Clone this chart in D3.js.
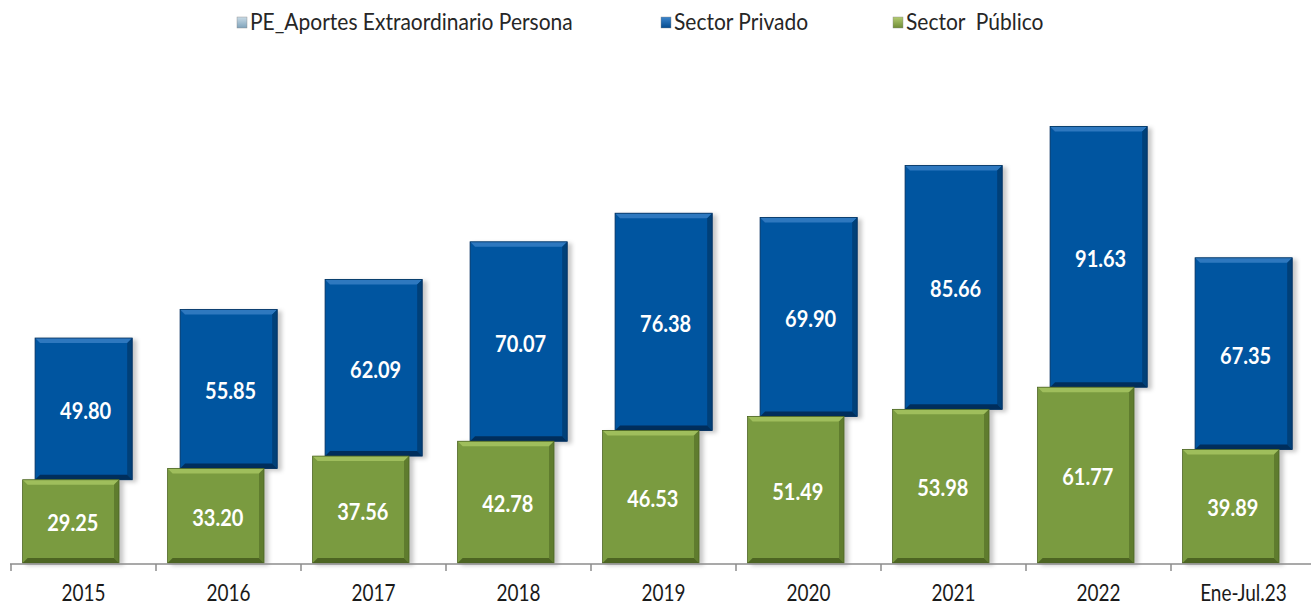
<!DOCTYPE html>
<html>
<head>
<meta charset="utf-8">
<script src="https://cdn.jsdelivr.net/npm/d3@7"></script>
<style>
  body { margin: 0; background: #fff; }
  svg text { font-family: Lato, "Open Sans", sans-serif; }
</style>
</head>
<body>
<div id="chart"></div>
<script>
// chart data
var categories = ["2015", "2016", "2017", "2018", "2019", "2020", "2021", "2022", "Ene-Jul.23"];
var sectorPublico = [29.25, 33.20, 37.56, 42.78, 46.53, 51.49, 53.98, 61.77, 39.89];
var sectorPrivado = [49.80, 55.85, 62.09, 70.07, 76.38, 69.90, 85.66, 91.63, 67.35];
var seriesNames = ["PE_Aportes Extraordinario Persona", "Sector Privado", "Sector  Público"];

var svgWidth = 1311;
var svgHeight = 605;
var baseY = 563;

var svg = d3.select("#chart").append("svg")
  .attr("width", svgWidth)
  .attr("height", svgHeight);

var x = d3.scaleBand().domain(categories).range([11, 1316]).padding(0);
var y = d3.scaleLinear().domain([0, 160]).range([baseY, baseY - 160 * 2.846]);

var defs = svg.append("defs");
var shadow = defs.append("filter").attr("id", "shadow")
  .attr("x", "-10%").attr("y", "-10%").attr("width", "130%").attr("height", "130%");
shadow.append("feDropShadow")
  .attr("dx", 4).attr("dy", 2).attr("stdDeviation", 2)
  .attr("flood-color", "#000").attr("flood-opacity", 0.22);

// legend marker gradients
function addGrad(id, c1, c2) {
  var g = defs.append("linearGradient").attr("id", id)
    .attr("x1", 0).attr("y1", 0).attr("x2", 0).attr("y2", 1);
  g.append("stop").attr("offset", "0%").attr("stop-color", c1);
  g.append("stop").attr("offset", "100%").attr("stop-color", c2);
}
addGrad("lg0", "#c9dbe6", "#7fa3bb");
addGrad("lg1", "#3d86cc", "#034a8e");
addGrad("lg2", "#b4cc72", "#6f8c35");

// stretched text helper (reference text is tall and narrow)
function tallText(g, tx, ty, str, sy) {
  return g.append("text")
    .attr("transform", "translate(" + tx + "," + ty + ") scale(1," + sy + ")")
    .text(str);
}

// bevelled bar: base rect + edge polygons
function bevelBar(g, bx, by, bw, bh, fill, light, dark, darker) {
  var b = Math.min(5, bh / 2);
  var grp = g.append("g").attr("filter", "url(#shadow)");
  grp.append("rect").attr("x", bx).attr("y", by).attr("width", bw).attr("height", bh).attr("fill", fill);
  grp.append("polygon")
    .attr("points", [[bx, by], [bx + bw, by], [bx + bw - b, by + b], [bx + b, by + b]].join(" "))
    .attr("fill", light);
  grp.append("polygon")
    .attr("points", [[bx + bw, by], [bx + bw, by + bh], [bx + bw - b, by + bh - b], [bx + bw - b, by + b]].join(" "))
    .attr("fill", dark);
  grp.append("polygon")
    .attr("points", [[bx, by + bh], [bx + bw, by + bh], [bx + bw - b, by + bh - b], [bx + b, by + bh - b]].join(" "))
    .attr("fill", darker);
  grp.append("rect").attr("x", bx).attr("y", by).attr("width", bw).attr("height", bh)
    .attr("fill", "none").attr("stroke", darker).attr("stroke-width", 0.8);
}

var bw = x.bandwidth();
var bars = svg.append("g");

// sector privado, stacked above publico and shifted right
categories.forEach(function(c, i) {
  var top = y(sectorPublico[i] + sectorPrivado[i]);
  var bottom = y(sectorPublico[i]);
  bevelBar(bars, x(c) + bw * 0.166, top, bw * 0.67, bottom - top,
    "#0455a0", "#2f78bf", "#033f78", "#022f5c");
});

// sector publico in front
categories.forEach(function(c, i) {
  var top = y(sectorPublico[i]);
  bevelBar(bars, x(c) + bw * 0.08, top, bw * 0.665, baseY - top,
    "#7a9b3f", "#9fbe5c", "#5f7b2e", "#4d6524");
});

// value labels
var labels = svg.append("g")
  .attr("fill", "#fff")
  .attr("font-size", 20)
  .attr("font-weight", "bold")
  .attr("text-anchor", "middle");

categories.forEach(function(c, i) {
  var top = y(sectorPublico[i] + sectorPrivado[i]);
  var bottom = y(sectorPublico[i]);
  tallText(labels, x(c) + bw * 0.166 + bw * 0.335 + 2, (top + bottom) / 2 + 10,
    d3.format(".2f")(sectorPrivado[i]), 1.13);
  tallText(labels, x(c) + bw * 0.08 + bw * 0.3325 + 2, (bottom + baseY) / 2 + 10,
    d3.format(".2f")(sectorPublico[i]), 1.13);
});

// x axis
var axis = svg.append("g").attr("transform", "translate(0," + (baseY + 1) + ")");
axis.append("line")
  .attr("x1", 10).attr("x2", svgWidth).attr("y1", 0).attr("y2", 0)
  .attr("stroke", "#8c8c8c").attr("stroke-width", 1.5);
axis.selectAll(".tick-sep")
  .data(categories)
  .enter().append("line")
  .attr("x1", d => x(d)).attr("x2", d => x(d))
  .attr("y1", 0).attr("y2", 7)
  .attr("stroke", "#8c8c8c").attr("stroke-width", 1.5);
var catLabels = axis.append("g")
  .attr("text-anchor", "middle")
  .attr("font-size", 19)
  .attr("fill", "#1a1a1a");
categories.forEach(function(c) {
  tallText(catLabels, x(c) + bw / 2, 37, c, 1.2);
});

// legend
var legendX = [237, 661, 893];
var legend = svg.append("g")
  .attr("font-size", 21)
  .attr("fill", "#262626");
seriesNames.forEach(function(name, i) {
  legend.append("rect")
    .attr("x", legendX[i]).attr("y", 17)
    .attr("width", 10).attr("height", 11)
    .attr("fill", "url(#lg" + i + ")")
    .attr("stroke", "#888").attr("stroke-width", 0.4);
  tallText(legend, legendX[i] + 13, 30, name, 1.1)
    .style("white-space", "pre");
});
</script>
</body>
</html>
